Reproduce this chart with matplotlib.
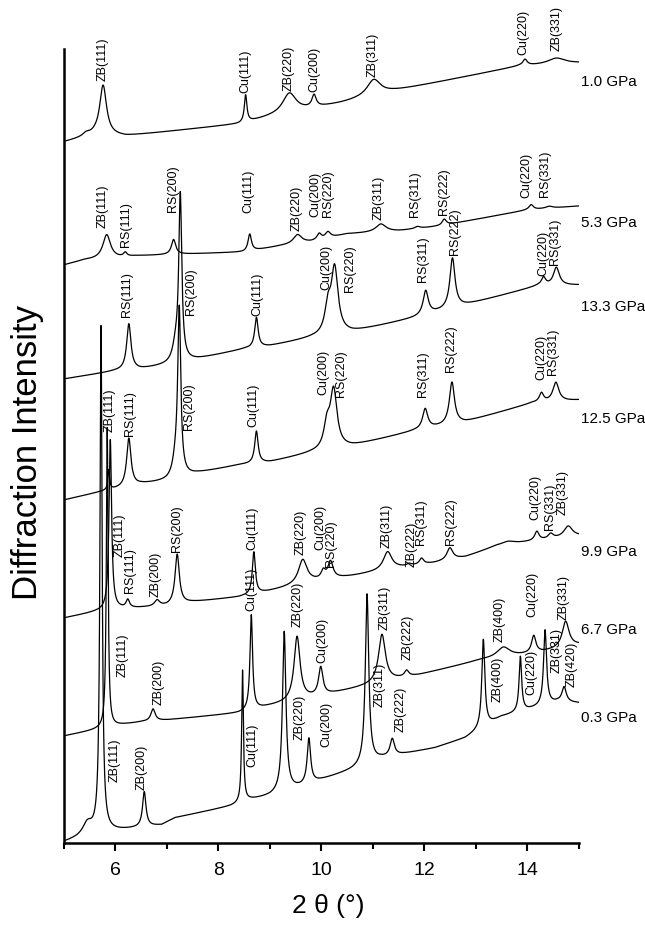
import numpy as np
import matplotlib
matplotlib.use('Agg')
import matplotlib.pyplot as plt

plt.rcParams['font.family'] = ['Liberation Sans', 'DejaVu Sans']

# pressure of each pattern, top to bottom, and height of its name at the right
pressures = ['1.0 GPa', '5.3 GPa', '13.3 GPa', '12.5 GPa', '9.9 GPa', '6.7 GPa', '0.3 GPa']
pressure_y = [761, 620, 536, 424, 291, 213, 125]

# background of each pattern: (2theta, intensity)
base_p10 = [(5.0, 701), (5.6, 708), (6.2, 707), (8.4, 719), (9.0, 726), (10.4, 740),
            (11.4, 752), (13.85, 777), (15.0, 780)]
base_p53 = [(5.0, 578), (5.4, 583), (6.05, 585), (6.4, 587), (7.4, 589), (8.5, 591),
            (9.2, 597), (9.8, 601), (10.5, 609), (11.5, 612), (12.3, 617), (14.0, 633),
            (15.0, 637)]
base_p133 = [(5.0, 464), (6.0, 472), (6.5, 474), (7.0, 478), (7.6, 484), (8.5, 494),
             (9.0, 497), (9.8, 505), (10.6, 511), (11.8, 525), (12.8, 538), (14.2, 557),
             (15.0, 558)]
base_p125 = [(5.0, 343), (5.7, 351), (6.1, 355), (6.5, 359), (7.0, 362), (7.6, 370),
             (8.4, 378), (9.0, 381), (9.8, 390), (10.6, 397), (11.8, 412), (12.8, 421),
             (14.1, 440), (15.0, 443)]
base_p99 = [(5.0, 225), (5.6, 231), (6.0, 234), (6.4, 235), (7.0, 237), (7.5, 241),
            (8.4, 246), (9.0, 252), (9.8, 261), (10.6, 267), (11.5, 275), (12.2, 280),
            (12.8, 286), (13.4, 297), (14.0, 301), (15.0, 307)]
base_p67 = [(5.0, 107), (5.6, 113), (6.1, 118), (6.5, 121), (7.0, 123), (8.4, 130),
            (9.0, 137), (9.9, 146), (10.7, 155), (11.4, 163), (11.9, 168), (13.1, 183),
            (13.9, 188), (14.3, 191), (15.0, 198)]
base_p03 = [(5.0, 1), (5.25, 5), (5.5, 10), (6.1, 13), (6.9, 18), (7.15, 25), (8.25, 37),
            (8.45, 40), (8.6, 43), (9.0, 47), (9.6, 56), (10.0, 63), (10.6, 73), (11.15, 84),
            (11.6, 89), (12.2, 95), (12.8, 105), (13.5, 126), (14.0, 133), (14.6, 141),
            (15.0, 140)]

# peaks: (2theta, height, half width)
peaks_p10 = [(5.43, 3, 0.08), (5.76, 50, 0.08), (8.53, 27, 0.03), (9.38, 20, 0.16),
             (9.86, 12, 0.05), (11.02, 16, 0.16), (13.96, 6, 0.05), (14.57, 6, 0.2)]
peaks_p53 = [(5.83, 24, 0.09), (6.19, 4, 0.04), (7.13, 15, 0.05), (8.61, 17, 0.04),
             (9.54, 9, 0.1), (9.96, 6, 0.05), (10.13, 6, 0.06), (11.16, 8, 0.12),
             (11.87, 2, 0.06), (12.39, 6, 0.05), (14.08, 5, 0.05), (14.43, 2, 0.08)]
peaks_p133 = [(6.26, 46, 0.05), (7.17, 15, 0.07), (7.26, 165, 0.035), (8.74, 30, 0.04),
              (10.13, 25, 0.07), (10.26, 65, 0.08), (12.03, 24, 0.06), (12.55, 50, 0.06),
              (14.32, 8, 0.05), (14.57, 18, 0.07)]
peaks_p125 = [(5.87, 20, 0.02), (6.26, 48, 0.05), (7.17, 15, 0.07), (7.24, 165, 0.035),
              (8.74, 32, 0.04), (10.11, 22, 0.07), (10.24, 58, 0.08), (12.02, 20, 0.06),
              (12.54, 42, 0.06), (14.28, 9, 0.05), (14.56, 19, 0.07)]
peaks_p99 = [(5.9, 170, 0.03), (6.24, 8, 0.04), (6.81, 6, 0.06), (7.2, 50, 0.05),
             (8.69, 42, 0.035), (9.64, 24, 0.1), (10.04, 8, 0.05), (10.18, 17, 0.06),
             (11.29, 18, 0.1), (11.71, 2, 0.05), (11.95, 6, 0.05), (12.5, 12, 0.07),
             (13.63, 3, 0.15), (14.19, 9, 0.05), (14.46, 5, 0.06), (14.8, 11, 0.1)]
peaks_p67 = [(5.84, 300, 0.02), (6.73, 12, 0.05), (8.64, 95, 0.03), (9.53, 64, 0.07),
             (9.99, 28, 0.05), (11.18, 48, 0.08), (11.66, 6, 0.05), (13.54, 10, 0.15),
             (14.13, 17, 0.05), (14.75, 26, 0.08)]
peaks_p03 = [(5.45, 10, 0.1), (5.72, 505, 0.025), (6.56, 35, 0.04), (8.47, 132, 0.02),
             (9.28, 160, 0.04), (9.76, 45, 0.04), (10.89, 170, 0.04), (11.38, 17, 0.05),
             (13.15, 88, 0.035), (13.87, 55, 0.03), (14.35, 75, 0.035), (14.72, 15, 0.05)]

# reflection labels: (text, 2theta, bottom of label)
labels_p10 = [('ZB(111)', 5.76, 762), ('Cu(111)', 8.53, 750), ('ZB(220)', 9.37, 752),
              ('Cu(200)', 9.86, 751), ('ZB(311)', 11.0, 766), ('Cu(220)', 13.92, 788),
              ('ZB(331)', 14.57, 792)]
labels_p53 = [('ZB(111)', 5.76, 615), ('RS(111)', 6.21, 596), ('RS(200)', 7.12, 631),
              ('Cu(111)', 8.58, 630), ('ZB(220)', 9.53, 612), ('Cu(200)', 9.88, 626),
              ('RS(220)', 10.14, 626), ('ZB(311)', 11.12, 623), ('RS(311)', 11.82, 626),
              ('RS(222)', 12.39, 628), ('Cu(220)', 13.98, 645), ('RS(331)', 14.35, 646)]
labels_p133 = [('RS(111)', 6.22, 526), ('RS(200)', 7.47, 528), ('Cu(111)', 8.75, 527),
               ('Cu(200)', 10.09, 553), ('RS(220)', 10.55, 551), ('RS(311)', 11.98, 561),
               ('RS(222)', 12.6, 588), ('Cu(220)', 14.31, 567), ('RS(331)', 14.55, 578)]
labels_p125 = [('ZB(111)', 5.89, 411), ('RS(111)', 6.28, 407), ('RS(200)', 7.43, 413),
               ('Cu(111)', 8.69, 416), ('Cu(200)', 10.04, 448), ('RS(220)', 10.39, 446),
               ('RS(311)', 11.98, 446), ('RS(222)', 12.52, 471), ('Cu(220)', 14.27, 463),
               ('RS(331)', 14.51, 468)]
labels_p99 = [('ZB(111)', 6.09, 286), ('RS(111)', 6.29, 250), ('ZB(200)', 6.79, 246),
              ('RS(200)', 7.2, 291), ('Cu(111)', 8.66, 293), ('ZB(220)', 9.6, 288),
              ('Cu(200)', 9.98, 293), ('RS(220)', 10.19, 276), ('ZB(311)', 11.28, 295),
              ('ZB(222)', 11.75, 276), ('RS(311)', 11.94, 298), ('RS(222)', 12.52, 298),
              ('Cu(220)', 14.16, 323), ('RS(331)', 14.45, 313), ('ZB(331)', 14.7, 328)]
labels_p67 = [('ZB(111)', 6.13, 166), ('ZB(200)', 6.83, 138), ('Cu(111)', 8.64, 232),
              ('ZB(220)', 9.55, 216), ('Cu(200)', 10.02, 180), ('ZB(311)', 11.24, 213),
              ('ZB(222)', 11.67, 183), ('ZB(400)', 13.46, 201), ('Cu(220)', 14.10, 226),
              ('ZB(331)', 14.72, 223)]
labels_p03 = [('ZB(111)', 5.99, 61), ('ZB(200)', 6.51, 53), ('Cu(111)', 8.67, 76),
              ('ZB(220)', 9.57, 103), ('Cu(200)', 10.09, 96), ('ZB(311)', 11.14, 136),
              ('ZB(222)', 11.55, 111), ('ZB(400)', 13.42, 141), ('Cu(220)', 14.08, 148),
              ('ZB(331)', 14.57, 170), ('ZB(420)', 14.86, 156)]

bases = [base_p10, base_p53, base_p133, base_p125, base_p99, base_p67, base_p03]
peaks = [peaks_p10, peaks_p53, peaks_p133, peaks_p125, peaks_p99, peaks_p67, peaks_p03]
labels = [labels_p10, labels_p53, labels_p133, labels_p125, labels_p99, labels_p67, labels_p03]

fig = plt.figure(figsize=(6.45, 9.26), dpi=100)
ax = fig.add_axes([64 / 645, 1 - 843 / 926, 514.5 / 645, 794 / 926])

tt = np.linspace(5, 15, 5001)
for i in range(len(pressures)):
    bx = [p[0] for p in bases[i]]
    by = [p[1] for p in bases[i]]
    y = np.interp(tt, bx, by)
    for pos, h, w in peaks[i]:
        y = y + h / (1 + ((tt - pos) / w) ** 2)
    ax.plot(tt, y, color='black', lw=0.9)
    for txt, lx, ly in labels[i]:
        ax.text(lx, ly, txt, rotation=90, ha='center', va='bottom', fontsize=9)
    ax.text(15.05, pressure_y[i], pressures[i], ha='left', va='center', fontsize=11)

ax.set_xlim(5, 15)
ax.set_ylim(0, 794)
ax.spines['top'].set_visible(False)
ax.spines['right'].set_visible(False)
ax.spines['left'].set_linewidth(1.8)
ax.spines['bottom'].set_linewidth(1.8)
ax.set_yticks([])
ax.set_xticks([6, 8, 10, 12, 14])
ax.set_xticks([5, 7, 9, 11, 13, 15], minor=True)
ax.tick_params(axis='x', which='major', direction='out', length=6, width=1.5, labelsize=14, pad=8)
ax.tick_params(axis='x', which='minor', direction='out', length=4.5, width=1.5)

fig.text(28 / 645, 1 - 452 / 926, 'Diffraction Intensity', rotation=90, ha='center', va='center', fontsize=25)
fig.text(328 / 645, 1 - 906 / 926, '2 θ (°)', ha='center', va='center', fontsize=19)

fig.savefig('out.png', dpi=100)
